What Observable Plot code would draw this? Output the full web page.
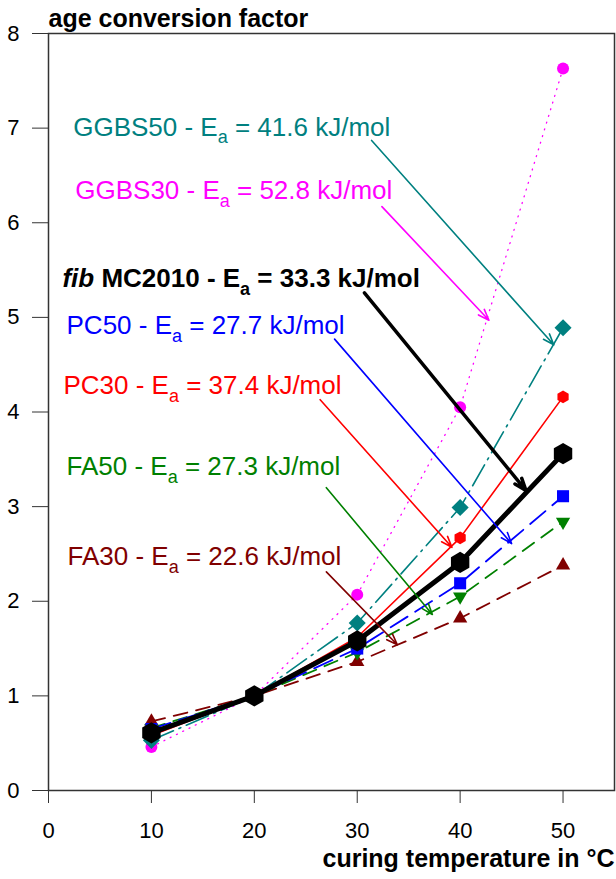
<!DOCTYPE html>
<html><head><meta charset="utf-8">
<script src="https://cdn.jsdelivr.net/npm/d3@7"></script>
<script src="https://cdn.jsdelivr.net/npm/@observablehq/plot@0.6"></script>
<style>body{margin:0;background:#fff}</style>
</head><body><div id="chart"></div>
<script>
// ---- data ----
const temperature = [10, 20, 30, 40, 50];
const GGBS30 = [0.46, 1.0, 2.07, 4.05, 7.63];
const GGBS50 = [0.53, 1.0, 1.77, 2.99, 4.89];
const FA30 = [0.73, 1.0, 1.36, 1.82, 2.38];
const FA50 = [0.66, 1.0, 1.46, 2.05, 2.84];
const PC50 = [0.65, 1.0, 1.50, 2.19, 3.11];
const PC30 = [0.58, 1.0, 1.62, 2.67, 4.16];
const fibMC2010 = [0.61, 1.0, 1.58, 2.41, 3.56];

const seriesNames = ["GGBS30", "GGBS50", "FA30", "FA50", "PC50", "PC30", "fib MC2010"];
const seriesValues = [GGBS30, GGBS50, FA30, FA50, PC50, PC30, fibMC2010];
const activationEnergy = [52.8, 41.6, 22.6, 27.3, 27.7, 37.4, 33.3];
const seriesColors = ["#ff00ff", "#008080", "#800000", "#008000", "#0000ff", "#ff0000", "#000000"];
const seriesSymbols = ["circle", "diamond2", "triangle", "triangle", "square", "hexagon", "hexagon"];

// label anchor (left end of text) in data units
const labelX = [2.6, 2.4, 1.85, 1.75, 1.75, 1.45, 1.35];
const labelY = [6.34, 7.01, 2.47, 3.42, 4.91, 4.28, 5.41];
// annotation arrows in data units
const arrowX1 = [32.4, 31.4, 27.0, 27.0, 27.8, 26.4, 30.7];
const arrowY1 = [6.17, 6.87, 2.31, 3.20, 4.77, 4.13, 5.26];
const arrowX2 = [42.8, 49.1, 33.9, 37.3, 45.0, 39.2, 46.4];
const arrowY2 = [4.97, 4.71, 1.54, 1.86, 2.61, 2.57, 3.17];

const xTicks = [0, 10, 20, 30, 40, 50];
const yTicks = [0, 1, 2, 3, 4, 5, 6, 7, 8];
const yTitle = "age conversion factor";
const xTitle = "curing temperature in °C";

// ---- styles (not data) ----
const dashes = ["1,6", "24,6,2,6", "14,9", "14,9", "20,9", null, null];
const lineWidths = [1.3, 1.6, 1.8, 1.8, 1.8, 1.6, 5];
const dotR = [6, 7.7, 5.3, 5.3, 6.8, 5.6, 9.2];
const dotRotate = [0, 0, 0, 180, 0, 0, 0];

const marks = [];
seriesNames.forEach((name, k) => {
  const rows = temperature.map((t, i) => ({t, v: seriesValues[k][i]}));
  const opts = {x: "t", y: "v", stroke: seriesColors[k], strokeWidth: lineWidths[k]};
  if (dashes[k]) opts.strokeDasharray = dashes[k];
  marks.push(Plot.line(rows, opts));
});
seriesNames.forEach((name, k) => {
  const rows = temperature.map((t, i) => ({t, v: seriesValues[k][i]}));
  marks.push(Plot.dot(rows, {x: "t", y: "v", symbol: seriesSymbols[k], r: dotR[k],
    fill: seriesColors[k], stroke: "none", rotate: dotRotate[k]}));
});
// arrows
const arrowRows = seriesNames.map((n, k) => ({k, x1: arrowX1[k], y1: arrowY1[k], x2: arrowX2[k], y2: arrowY2[k], c: seriesColors[k]}));
marks.push(Plot.arrow(arrowRows.filter(d => d.k !== 6), {x1: "x1", y1: "y1", x2: "x2", y2: "y2",
  stroke: d => d.c, strokeWidth: 1.6, headLength: 11, headAngle: 40}));
marks.push(Plot.arrow(arrowRows.filter(d => d.k === 6), {x1: "x1", y1: "y1", x2: "x2", y2: "y2",
  stroke: d => d.c, strokeWidth: 3.5, headLength: 5.5, headAngle: 40}));
// labels
const labelRows = seriesNames.map((n, k) => ({k, x: labelX[k], y: labelY[k], c: seriesColors[k],
  text: `${n} - E_a = ${activationEnergy[k].toFixed(1)} kJ/mol`}));
marks.push(Plot.text(labelRows.filter(d => d.k !== 6), {x: "x", y: "y", text: "text", fill: d => d.c,
  textAnchor: "start", fontSize: 26}));
marks.push(Plot.text(labelRows.filter(d => d.k === 6), {x: "x", y: "y", text: "text", fill: d => d.c,
  textAnchor: "start", fontSize: 26, fontWeight: "bold"}));

const chart = Plot.plot({
  width: 616,
  height: 879,
  marginLeft: 48,
  marginRight: 2,
  marginTop: 33,
  marginBottom: 89,
  style: {fontFamily: "'Liberation Sans', Arial, sans-serif", background: "#fff", color: "#000"},
  x: {domain: [0, 55]},
  y: {domain: [0, 8]},
  color: {type: "identity"},
  marks: [
    Plot.axisY({ticks: yTicks, tickSize: 16, tickPadding: 13, fontSize: 22, label: null, stroke: "#333"}),
    Plot.axisX({ticks: xTicks, tickSize: 13, tickPadding: 19, fontSize: 22, label: null, stroke: "#333"}),
    Plot.frame({stroke: "#333", strokeWidth: 1.5}),
    ...marks,
    Plot.text([yTitle], {text: d => d, frameAnchor: "top-left", textAnchor: "start", dy: -24, fontSize: 25, fontWeight: "bold"}),
    Plot.text([xTitle], {text: d => d, frameAnchor: "bottom-right", textAnchor: "end", dy: 76, fontSize: 25, fontWeight: "bold"})
  ]
});
document.getElementById("chart").appendChild(chart);

// subscripts and italic "fib"
d3.select(chart).selectAll("text").each(function() {
  const s = this.textContent;
  if (!s.includes("E_a")) return;
  const [before, after] = s.split("E_a");
  const t = d3.select(this);
  t.text(null);
  let pre = before;
  if (pre.startsWith("fib ")) {
    t.append("tspan").attr("font-style", "italic").text("fib");
    pre = pre.slice(3);
  }
  t.append("tspan").text(pre + "E");
  t.append("tspan").attr("font-size", 18).attr("dy", 8).text("a");
  t.append("tspan").attr("dy", -8).text(after);
});
</script>
</body></html>
